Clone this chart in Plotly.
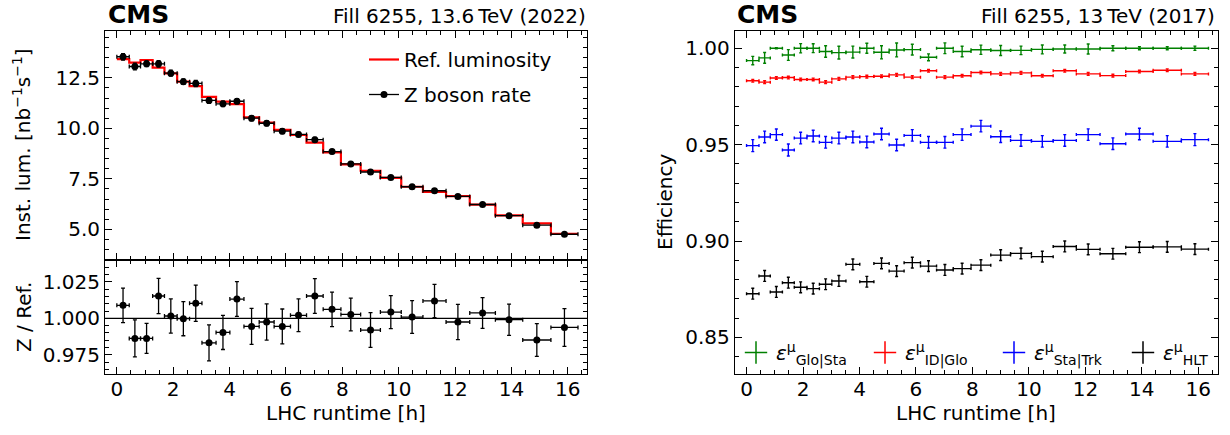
import plotly.graph_objects as go

# ---------------- data ----------------
bin_edges = [0.0, 0.44, 0.84, 1.27, 1.69, 2.14, 2.58, 3.02, 3.52, 4.01, 4.51, 5.05,
             5.58, 6.16, 6.73, 7.32, 7.95, 8.65, 9.35, 10.09, 10.86, 11.68, 12.52,
             13.43, 14.40, 15.40, 16.36]

ref_lumi = [13.42, 13.25, 13.38, 13.00, 12.72, 12.31, 12.09, 11.56, 11.32, 11.20,
            10.54, 10.28, 9.92, 9.67, 9.29, 8.81, 8.22, 7.90, 7.55, 7.11, 6.85,
            6.65, 6.22, 5.69, 5.30, 4.78]
z_rate = [13.54, 13.06, 13.19, 13.19, 12.73, 12.31, 12.22, 11.38, 11.21, 11.34,
          10.50, 10.25, 9.86, 9.70, 9.44, 8.85, 8.24, 7.84, 7.57, 7.11, 6.91,
          6.63, 6.23, 5.68, 5.21, 4.76]
z_err = [0.16, 0.17, 0.14, 0.16, 0.15, 0.14, 0.15, 0.14, 0.13, 0.13, 0.13, 0.13,
         0.12, 0.11, 0.11, 0.10, 0.09, 0.09, 0.09, 0.08, 0.08, 0.08, 0.07, 0.06,
         0.06, 0.06]
ratio = [1.0089, 0.9863, 0.9863, 1.0153, 1.0016, 0.9998, 1.0103, 0.9833, 0.9904,
         1.0132, 0.9945, 0.9975, 0.9945, 1.0021, 1.0153, 1.0062, 1.0027, 0.9920,
         1.0043, 1.0009, 1.0119, 0.9975, 1.0037, 0.9991, 0.9852, 0.9938]
ratio_err = [0.0118, 0.0126, 0.0103, 0.0121, 0.0117, 0.0117, 0.0124, 0.0123, 0.0117,
             0.0119, 0.0123, 0.0124, 0.0119, 0.0112, 0.0119, 0.0118, 0.0112, 0.0119,
             0.0113, 0.0112, 0.0114, 0.0120, 0.0105, 0.0107, 0.0112, 0.0129]

eff_glo_sta = [0.9936, 0.9950, 1.0000, 0.9965, 1.0000, 1.0000, 0.9983, 0.9977, 0.9980,
               1.0000, 0.9979, 0.9991, 0.9993, 0.9953, 1.0000, 0.9983, 0.9992, 0.9988,
               0.9989, 0.9994, 0.9996, 0.9996, 1.0000, 1.0000, 1.0000, 1.0000]
eff_glo_sta_err = [0.0022, 0.0028, 0.0003, 0.0028, 0.0024, 0.0023, 0.0030, 0.0033,
                   0.0031, 0.0026, 0.0034, 0.0036, 0.0028, 0.0018, 0.0028, 0.0027,
                   0.0024, 0.0026, 0.0022, 0.0023, 0.0021, 0.0026, 0.0013, 0.0008,
                   0.0008, 0.0011]
eff_id_glo = [0.9831, 0.9824, 0.9846, 0.9848, 0.9838, 0.9838, 0.9824, 0.9841, 0.9850,
              0.9853, 0.9855, 0.9862, 0.9850, 0.9883, 0.9850, 0.9857, 0.9874, 0.9867,
              0.9872, 0.9857, 0.9883, 0.9867, 0.9858, 0.9879, 0.9886, 0.9867]
eff_id_glo_err = [0.0007] * 26
eff_sta_trk = [0.9495, 0.9540, 0.9552, 0.9472, 0.9534, 0.9545, 0.9512, 0.9534, 0.9540,
               0.9514, 0.9555, 0.9498, 0.9548, 0.9512, 0.9512, 0.9552, 0.9596, 0.9541,
               0.9522, 0.9517, 0.9522, 0.9552, 0.9505, 0.9555, 0.9517, 0.9526]
eff_sta_trk_err = [0.0031, 0.0030, 0.0029, 0.0031, 0.0030, 0.0030, 0.0030, 0.0030,
                   0.0030, 0.0030, 0.0030, 0.0030, 0.0030, 0.0030, 0.0030, 0.0030,
                   0.0030, 0.0030, 0.0030, 0.0030, 0.0030, 0.0030, 0.0030, 0.0030,
                   0.0030, 0.0031]
eff_hlt = [0.8727, 0.8819, 0.8736, 0.8784, 0.8760, 0.8753, 0.8776, 0.8793, 0.8879,
           0.8789, 0.8884, 0.8844, 0.8888, 0.8870, 0.8850, 0.8857, 0.8875, 0.8927,
           0.8936, 0.8919, 0.8972, 0.8957, 0.8934, 0.8968, 0.8970, 0.8958]
eff_hlt_err = [0.0028] * 26

left_title = "Fill 6255, 13.6\u2009TeV (2022)"
right_title = "Fill 6255, 13\u2009TeV (2017)"

# ---------------- derived ----------------
centers = [(a + b) / 2 for a, b in zip(bin_edges[:-1], bin_edges[1:])]
half_w = [(b - a) / 2 for a, b in zip(bin_edges[:-1], bin_edges[1:])]

W, H = 1230, 435
FONT = "DejaVu Sans"


def px(p):
    return p / W


def py(p):
    return 1 - p / H


fig = go.Figure()

# Ref luminosity step
fig.add_trace(go.Scatter(
    x=bin_edges, y=ref_lumi + [ref_lumi[-1]], mode="lines", line_shape="hv",
    line=dict(color="#ff0000", width=2.2), name="Ref. luminosity",
    xaxis="x", yaxis="y", legend="legend", legendgroup="a"))
# Z boson rate
fig.add_trace(go.Scatter(
    x=centers, y=z_rate, mode="markers",
    marker=dict(color="black", size=7),
    error_x=dict(type="data", array=half_w, color="black", thickness=1.3, width=2),
    error_y=dict(type="data", array=z_err, color="black", thickness=1.3, width=2),
    xaxis="x", yaxis="y", showlegend=False))
fig.add_trace(go.Scatter(
    x=[None], y=[None], mode="lines+markers", name="Z boson rate",
    line=dict(color="black", width=1.3), marker=dict(color="black", size=7),
    xaxis="x", yaxis="y", legend="legend", legendgroup="b"))

# Ratio
fig.add_trace(go.Scatter(
    x=centers, y=ratio, mode="markers",
    marker=dict(color="black", size=7),
    error_x=dict(type="data", array=half_w, color="black", thickness=1.3, width=2),
    error_y=dict(type="data", array=ratio_err, color="black", thickness=1.3, width=2),
    xaxis="x2", yaxis="y2", showlegend=False))

# Efficiencies
series = [
    ("<i>ε</i><sup>μ</sup><sub>Glo|Sta</sub>", eff_glo_sta, eff_glo_sta_err, "#008000"),
    ("<i>ε</i><sup>μ</sup><sub>ID|Glo</sub>", eff_id_glo, eff_id_glo_err, "#ff0000"),
    ("<i>ε</i><sup>μ</sup><sub>Sta|Trk</sub>", eff_sta_trk, eff_sta_trk_err, "#0000ff"),
    ("<i>ε</i><sup>μ</sup><sub>HLT</sub>", eff_hlt, eff_hlt_err, "#000000"),
]
for name, vals, errs, col in series:
    fig.add_trace(go.Scatter(
        x=centers, y=vals, mode="markers",
        marker=dict(color=col, size=1, opacity=0),
        error_x=dict(type="data", array=half_w, color=col, thickness=1.4, width=1.5),
        error_y=dict(type="data", array=errs, color=col, thickness=1.4, width=1.5),
        xaxis="x3", yaxis="y3", showlegend=False))
for name, vals, errs, col in series:
    fig.add_trace(go.Scatter(
        x=[None], y=[None], mode="markers", name=name,
        marker=dict(symbol="cross-thin", size=16, color=col, line=dict(width=1.5, color=col)),
        xaxis="x3", yaxis="y3", legend="legend2"))

# ---------------- axes ----------------
x_rng = [-0.42, 16.68]
common = dict(showline=True, linecolor="black", linewidth=1, mirror="allticks",
              ticks="inside", ticklen=7, tickwidth=1, tickcolor="black",
              showgrid=False, zeroline=False, automargin=False,
              tickfont=dict(family=FONT, size=20, color="black"))
xcommon = dict(common, range=x_rng, tick0=0, dtick=2, ticklabelstandoff=-3,
               minor=dict(ticks="inside", ticklen=4, dtick=0.5, tickcolor="black", showgrid=False))

L_DOM = [px(105), px(587)]
R_DOM = [px(734.7), px(1217.5)]
TOP, MID, BOT = 30.5, 260.3, 373.5

fig.update_layout(
    width=W, height=H, margin=dict(l=0, r=0, t=0, b=0, autoexpand=False),
    paper_bgcolor="white", plot_bgcolor="white",
    font=dict(family=FONT, size=20, color="black"),
    xaxis=dict(xcommon, domain=L_DOM, anchor="y", showticklabels=False, matches="x2"),
    yaxis=dict(common, domain=[py(MID), py(TOP)], anchor="x", range=[3.47, 14.84],
               tick0=0, dtick=2.5, tickformat=".1f", ticklabelstandoff=0,
               minor=dict(ticks="inside", ticklen=4, dtick=0.5, tickcolor="black", showgrid=False)),
    xaxis2=dict(xcommon, domain=L_DOM, anchor="y2"),
    yaxis2=dict(common, domain=[py(BOT), py(MID)], anchor="x2", range=[0.9623, 1.0397],
                tick0=1.0, dtick=0.025, tickformat=".3f", ticklabelstandoff=0,
                minor=dict(ticks="inside", ticklen=4, dtick=0.005, tickcolor="black", showgrid=False)),
    xaxis3=dict(xcommon, domain=R_DOM, anchor="y3"),
    yaxis3=dict(common, domain=[py(BOT), py(TOP)], anchor="x3", range=[0.8313, 1.0092],
                tick0=1.0, dtick=0.05, tickformat=".2f", ticklabelstandoff=0,
                minor=dict(ticks="inside", ticklen=4, dtick=0.01, tickcolor="black", showgrid=False)),
    legend=dict(x=px(364), y=py(40), xanchor="left", yanchor="top",
                bgcolor="rgba(0,0,0,0)", font=dict(family=FONT, size=20),
                tracegroupgap=6, itemwidth=30),
    legend2=dict(x=px(736), y=py(333), xanchor="left", yanchor="top", orientation="h",
                 bgcolor="rgba(0,0,0,0)", font=dict(family=FONT, size=20),
                 entrywidth=84, entrywidthmode="pixels", itemwidth=30),
    shapes=[dict(type="line", xref="x2 domain", yref="y2", x0=0, x1=1, y0=1.0, y1=1.0,
                 line=dict(color="black", width=1.2))],
    annotations=[
        dict(text="<b>CMS</b>", x=px(106), y=py(15), xref="paper", yref="paper",
             xanchor="left", yanchor="middle", showarrow=False,
             font=dict(family=FONT, size=25, color="black")),
        dict(text=left_title, x=px(588), y=py(16), xref="paper", yref="paper",
             xanchor="right", yanchor="middle", showarrow=False,
             font=dict(family=FONT, size=20, color="black")),
        dict(text="<b>CMS</b>", x=px(735), y=py(15), xref="paper", yref="paper",
             xanchor="left", yanchor="middle", showarrow=False,
             font=dict(family=FONT, size=25, color="black")),
        dict(text=right_title, x=px(1217), y=py(16), xref="paper", yref="paper",
             xanchor="right", yanchor="middle", showarrow=False,
             font=dict(family=FONT, size=20, color="black")),
        dict(text="Inst. lum. [nb<sup>−1</sup>s<sup>−1</sup>]", x=px(22), y=py(145),
             xref="paper", yref="paper", xanchor="center", yanchor="middle",
             textangle=-90, showarrow=False, font=dict(family=FONT, size=20, color="black")),
        dict(text="Z / Ref.", x=px(24), y=py(317), xref="paper", yref="paper",
             xanchor="center", yanchor="middle", textangle=-90, showarrow=False,
             font=dict(family=FONT, size=20, color="black")),
        dict(text="Efficiency", x=px(665), y=py(202), xref="paper", yref="paper",
             xanchor="center", yanchor="middle", textangle=-90, showarrow=False,
             font=dict(family=FONT, size=20, color="black")),
        dict(text="LHC runtime [h]", x=px(346), y=py(413), xref="paper", yref="paper",
             xanchor="center", yanchor="middle", showarrow=False,
             font=dict(family=FONT, size=20, color="black")),
        dict(text="LHC runtime [h]", x=px(976), y=py(413), xref="paper", yref="paper",
             xanchor="center", yanchor="middle", showarrow=False,
             font=dict(family=FONT, size=20, color="black")),
    ],
)

fig.write_html("out.html", config={"displayModeBar": False},
               post_script="document.body.style.margin='0px';")
